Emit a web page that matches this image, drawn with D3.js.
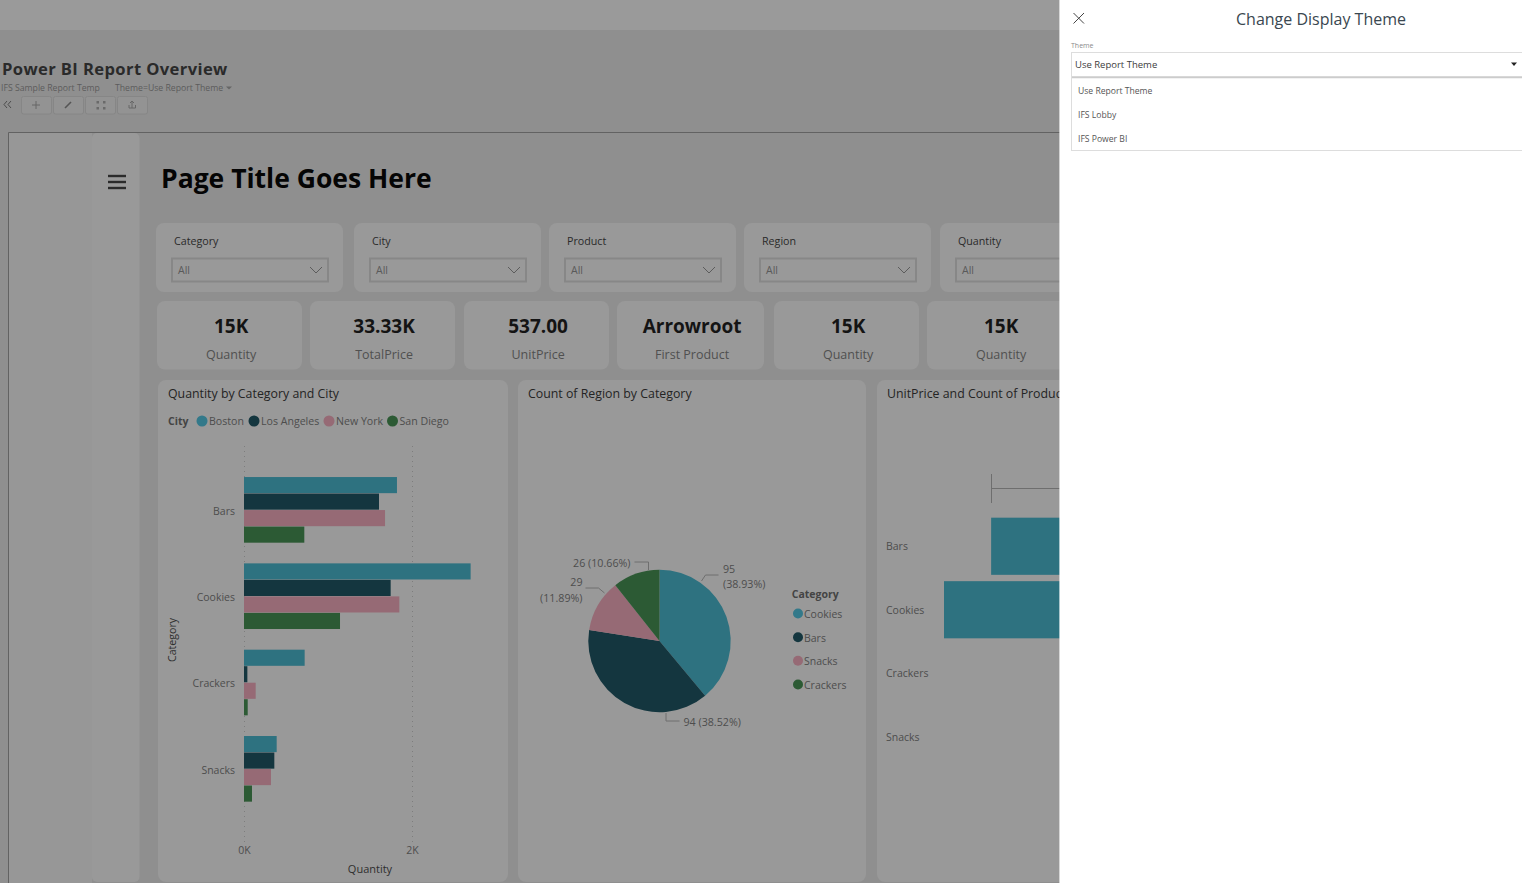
<!DOCTYPE html>
<html><head><meta charset="utf-8">
<script src="https://cdn.jsdelivr.net/npm/d3@7/dist/d3.min.js"></script>
<style>
html,body{margin:0;padding:0;background:#8f8f8f;overflow:hidden}
svg{display:block}
text{font-family:"Open Sans","Noto Sans",sans-serif}
</style></head><body>
<svg id="c" width="1522" height="883"></svg>
<script>
// ---------- data ----------
const categories = ["Bars","Cookies","Crackers","Snacks"];
const cities = ["Boston","Los Angeles","New York","San Diego"];
const boston = [1821,2698,722,389];
const losAngeles = [1607,1746,40,361];
const newYork = [1679,1849,139,321];
const sanDiego = [718,1143,44,95];
const quantityTicks = [0,2000];
const pieCategories = ["Cookies","Bars","Snacks","Crackers"];
const pieCounts = [95,94,29,26];
const pieLabels = [["95","(38.93%)"],["94 (38.52%)"],["29","(11.89%)"],["26 (10.66%)"]];
const funnelValues = [165,221,60,50];
const filterNames = ["Category","City","Product","Region","Quantity"];
const kpiValues = ["15K","33.33K","537.00","Arrowroot","15K","15K"];
const kpiNames = ["Quantity","TotalPrice","UnitPrice","First Product","Quantity","Quantity"];
const themeOptions = ["Use Report Theme","IFS Lobby","IFS Power BI"];

// ---------- palette ----------
const cTeal="#2e7280", cNavy="#14363f", cPink="#966a75", cGreen="#2c5a34";
const legendTeal="#33798a";
const cityColor=d3.scaleOrdinal(cities,[cTeal,cNavy,cPink,cGreen]);
const pieColor=d3.scaleOrdinal(pieCategories,[cTeal,cNavy,cPink,cGreen]);
const cardFill="#999999";

const svg=d3.select("#c");
const T=(g,x,y,s,o={})=>g.append("text").attr("x",x).attr("y",y).text(s)
  .attr("font-size",o.size||12).attr("fill",o.fill||"#4a4a4a")
  .attr("font-weight",o.weight||400).attr("text-anchor",o.anchor||"start")
  .attr("font-family",o.family||null).attr("letter-spacing",o.ls||null);
const R=(g,x0,y0,x1,y1,fill,rx=0,stroke=null,sw=1)=>g.append("rect").attr("x",x0).attr("y",y0)
  .attr("width",x1-x0).attr("height",y1-y0).attr("fill",fill).attr("rx",rx)
  .attr("stroke",stroke).attr("stroke-width",sw);
const L=(g,pts,stroke,sw=1)=>g.append("path").attr("d",d3.line()(pts)).attr("fill","none").attr("stroke",stroke).attr("stroke-width",sw);

// ---------- page chrome ----------
const bg=svg.append("g");
R(bg,0,0,1522,883,"#8f8f8f");
R(bg,0,0,1522,30,"#9a9a9a");
T(bg,2,75,"Power BI Report Overview",{size:16.6,weight:700,fill:"#2a2a2a",ls:.38});
T(bg,1,91,"IFS Sample Report Temp",{size:8.7,fill:"#5c5c5c"});
T(bg,115,91,"Theme=Use Report Theme",{size:8.7,fill:"#5c5c5c"});
bg.append("path").attr("d","M226 86.5h6l-3 3z").attr("fill","#666");
L(bg,[[7,101],[4,104.5],[7,108]],"#4c4c4c");L(bg,[[11,101],[8,104.5],[11,108]],"#4c4c4c");
[21,53,85,117].forEach(x=>R(bg,x+.5,96.5,x+30.5,114,"#939393",2,"#868686"));
L(bg,[[32,105],[40,105]],"#666");L(bg,[[36,101],[36,109]],"#666");
L(bg,[[65,108],[71,102]],"#555",1.6);
[[96.5,101],[103,101],[96.5,107],[103,107]].forEach(p=>R(bg,p[0],p[1],p[0]+2.5,p[1]+2.5,"#6a6a6a"));
L(bg,[[129,105],[129,108],[135.5,108],[135.5,105]],"#666");L(bg,[[132,108],[132,101]],"#666");L(bg,[[130,103],[132,101],[134,103]],"#666");

R(bg,9,133,92,883,"#979797");
R(bg,92,133,139.5,882,"#999999",5);
L(bg,[[8.5,883],[8.5,132.5],[1060,132.5]],"#626262");
[176,182,188].forEach(y=>L(bg,[[108,y],[126,y]],"#2b2b2b",2.4));
T(bg,161,188,"Page Title Goes Here",{size:26.5,weight:700,fill:"#050505",family:"'Noto Sans','Open Sans',sans-serif"});

// filters
const filterX=[156,354,549,744,940];
filterNames.forEach((n,i)=>{
  const x=filterX[i],g=bg.append("g");
  R(g,x,223,x+187,292,cardFill,8);
  T(g,x+18,245,n,{size:10.7,fill:"#2a2a2a"});
  R(g,x+16,258.5,x+172,281.5,"none",0,"#878787",2);
  T(g,x+22,274,"All",{size:10.5,fill:"#5a5a5a"});
  L(g,[[x+154,267],[x+160,273],[x+166,267]],"#5c5c5c");
});
// KPI cards
const kpiSpan=[[157,302],[310,455],[464,609],[617,764],[774,919],[927,1072]];
kpiNames.forEach((n,i)=>{
  const [a,b]=kpiSpan[i],m=(a+b)/2+1.6,g=bg.append("g");
  R(g,a,301,b,369.5,cardFill,8);
  T(g,m,333,kpiValues[i],{size:19,weight:700,fill:"#141414",anchor:"middle"});
  T(g,m,358.6,n,{size:12.5,fill:"#505050",anchor:"middle"});
});
// chart cards
[[158,508],[518,866],[877,1225]].forEach(s=>R(bg,s[0],380,s[1],882,cardFill,8));

// ---------- bar chart ----------
const bar=svg.append("g");
T(bar,168,398,"Quantity by Category and City",{size:12.35,fill:"#242424"});
T(bar,168,425,"City",{size:10.5,weight:700,fill:"#444"});
const cityLegendX=[202,254,329,392.5];
cities.forEach((c,i)=>{
  bar.append("circle").attr("cx",cityLegendX[i]).attr("cy",421).attr("r",5.5).attr("fill",i==0?legendTeal:cityColor(c));
  T(bar,cityLegendX[i]+7,425,c,{size:10.6,fill:"#4d4d4d"});
});
const x=d3.scaleLinear().domain([0,2000]).range([244,412]);
const y=d3.scaleBand().domain(categories).range([466.9,812.2]).paddingInner(.235).paddingOuter(.1175);
const y1=d3.scaleBand().domain(cities).range([0,y.bandwidth()]);
const xAxis=bar.append("g").attr("transform","translate(0,842)")
  .call(d3.axisBottom(x).tickValues(quantityTicks).tickFormat(d=>d/1000+"K").tickSize(-399).tickPadding(5));
xAxis.select(".domain").remove();
xAxis.selectAll("line").attr("stroke","#7d7d7d").attr("stroke-dasharray","1,4");
xAxis.selectAll("text").attr("font-size",10.5).attr("fill","#4d4d4d").attr("font-family",null);
const yAxis=bar.append("g").attr("transform","translate(244,0)")
  .call(d3.axisLeft(y).tickSize(0).tickPadding(9));
yAxis.select(".domain").remove();
yAxis.selectAll("text").attr("font-size",10.5).attr("fill","#4d4d4d").attr("font-family",null).attr("y",1.4);
const seriesValues=[boston,losAngeles,newYork,sanDiego];
cities.forEach((c,s)=>{
  bar.append("g").selectAll("rect").data(categories).join("rect")
    .attr("x",x(0)).attr("y",d=>y(d)+y1(c)).attr("height",y1.bandwidth()-.4)
    .attr("width",(d,i)=>x(seriesValues[s][i])-x(0)).attr("fill",cityColor(c));
});
T(bar,370,873,"Quantity",{size:11,fill:"#2e2e2e",anchor:"middle"});
T(bar,0,0,"Category",{size:10.6,fill:"#2e2e2e",anchor:"middle"}).attr("transform","translate(176,640) rotate(-90)");

// ---------- pie ----------
const pieG=svg.append("g");
T(pieG,528,398,"Count of Region by Category",{size:12.35,fill:"#242424"});
const arcs=d3.pie().sort(null)(pieCounts);
const pc=pieG.append("g").attr("transform","translate(659.5,641)");
pc.selectAll("path").data(arcs).join("path").attr("d",d3.arc().innerRadius(0).outerRadius(71.2)).attr("fill",(d,i)=>pieColor(pieCategories[i]));
// leader lines are an annotation layout relative to the pie centre
const leaders=[
  {pts:[[42,-60],[46,-66],[59,-66]],tx:63.5,ty:[-68,-53],a:"start"},
  {pts:[[6.5,72],[6.5,80],[20,80]],tx:24,ty:[85],a:"start"},
  {pts:[[-55,-48],[-61,-53],[-74,-53]],tx:-77,ty:[-55,-39],a:"end"},
  {pts:[[-11,-71],[-11,-79],[-25,-79]],tx:-29,ty:[-74],a:"end"}];
leaders.forEach((l,i)=>{
  L(pc,l.pts,"#6e6e6e");
  pieLabels[i].forEach((s,k)=>T(pc,l.tx,l.ty[k],s,{size:10.7,fill:"#4d4d4d",anchor:l.a}));
});
T(pieG,791.7,598,"Category",{size:10.5,weight:700,fill:"#444"});
const legendRow=d3.scalePoint().domain(pieCategories).range([614,685]);
pieCategories.forEach((c,i)=>{
  pieG.append("circle").attr("cx",798).attr("cy",legendRow(c)-.5).attr("r",5).attr("fill",i==0?legendTeal:pieColor(c));
  T(pieG,804,legendRow(c)+4,c,{size:10.5,fill:"#4d4d4d"});
});

// ---------- funnel (mostly hidden by the panel) ----------
const fun=svg.append("g");
T(fun,887,398,"UnitPrice and Count of Product",{size:12.35,fill:"#242424"});
const fy=d3.scaleBand().domain(categories).range([514.5,768.5]).paddingInner(.1).paddingOuter(.05);
const fw=d3.scaleLinear().domain([0,221]).range([0,186]);
fun.selectAll("rect").data(categories).join("rect")
  .attr("x",(d,i)=>1130-fw(funnelValues[i])).attr("width",(d,i)=>2*fw(funnelValues[i]))
  .attr("y",d=>fy(d)).attr("height",fy.bandwidth()).attr("fill",cTeal);
categories.forEach(c=>T(fun,886,fy(c)+fy.bandwidth()/2+4,c,{size:10.5,fill:"#4d4d4d"}));
L(fun,[[991.5,474],[991.5,503]],"#6e6e6e");
L(fun,[[991.5,488.5],[1130,488.5]],"#6e6e6e");

// ---------- side panel ----------
const panel=svg.append("g");
R(panel,1059.4,0,1522,883,"#ffffff");
L(panel,[[1073.5,13],[1084,23.5]],"#444");L(panel,[[1084,13],[1073.5,23.5]],"#444");
T(panel,1321,25,"Change Display Theme",{size:16,fill:"#3a4750",anchor:"middle"});
T(panel,1071,48,"Theme",{size:7,fill:"#8a8a8a"});
R(panel,1071.5,52.5,1530,76.5,"#fff",0,"#dddddd");
T(panel,1075,67.6,"Use Report Theme",{size:9.5,fill:"#3c3c3c"});
panel.append("path").attr("d","M1511 62.5h6l-3 3.5z").attr("fill","#222");
R(panel,1071.5,77.5,1530,150.5,"#fff",0,"#dddddd");
L(panel,[[1072,77.5],[1522,77.5]],"#cccccc",1.4);
themeOptions.forEach((o,i)=>T(panel,1078,94+24*i,o,{size:8.6,fill:"#555"}));
</script>
</body></html>
